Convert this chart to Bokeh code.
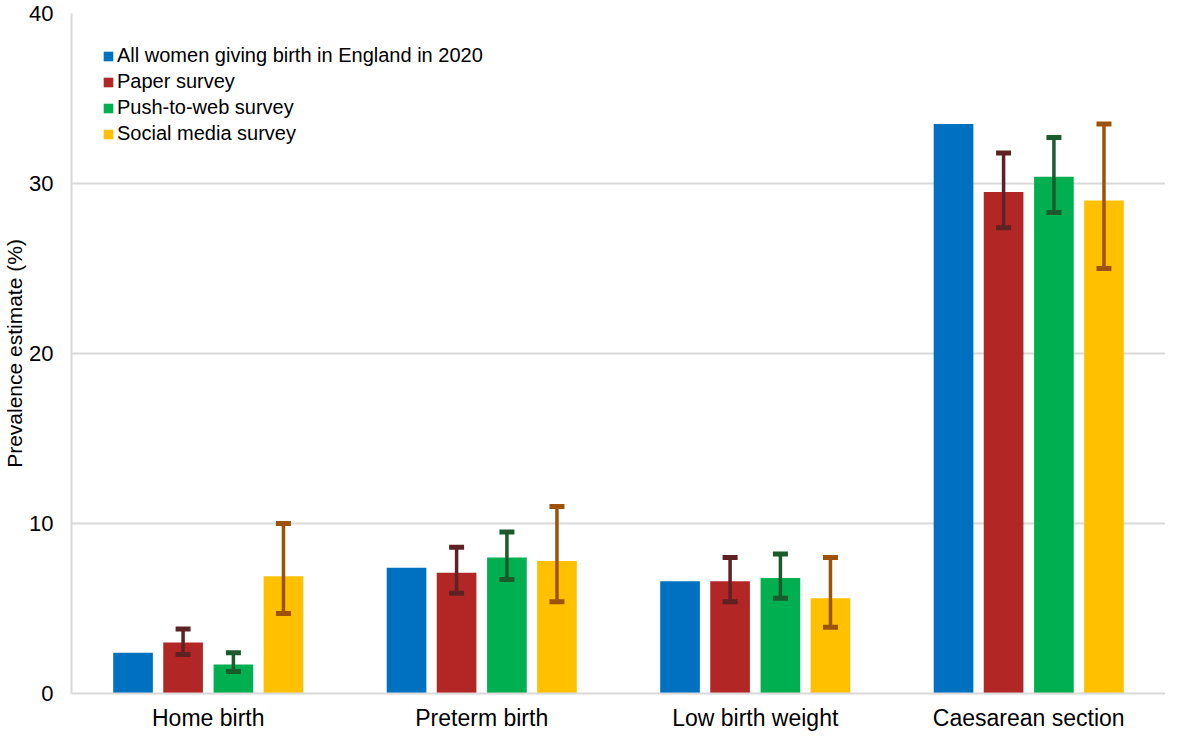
from bokeh.plotting import figure
from bokeh.models import (FactorRange, Whisker, ColumnDataSource, Legend, LegendItem,
                          TeeHead, FixedTicker)
from bokeh.transform import dodge
from bokeh.embed import file_html
from bokeh.resources import INLINE

categories = ["Home birth", "Preterm birth", "Low birth weight", "Caesarean section"]
series_names = ["All women giving birth in England in 2020", "Paper survey",
                "Push-to-web survey", "Social media survey"]
all_women = [2.4, 7.4, 6.6, 33.5]
paper = [3.0, 7.1, 6.6, 29.5]
paper_lo = [2.3, 5.9, 5.4, 27.4]
paper_hi = [3.8, 8.6, 8.0, 31.8]
web = [1.7, 8.0, 6.8, 30.4]
web_lo = [1.3, 6.7, 5.6, 28.3]
web_hi = [2.4, 9.5, 8.2, 32.7]
social = [6.9, 7.8, 5.6, 29.0]
social_lo = [4.7, 5.4, 3.9, 25.0]
social_hi = [10.0, 11.0, 8.0, 33.5]
y_ticks = [0, 10, 20, 30, 40]

FONT = "Liberation Sans"
GRID = "#d9d9d9"

p = figure(x_range=FactorRange(*categories, range_padding=0), y_range=(0, 40),
           width=1165, height=733, output_backend="svg", toolbar_location=None,
           min_border_left=60, min_border_right=0, min_border_top=13, min_border_bottom=36)
p.outline_line_color = None
p.xgrid.grid_line_color = None
p.ygrid.grid_line_color = GRID
p.ygrid.grid_line_width = 2
p.yaxis.ticker = FixedTicker(ticks=y_ticks)

for ax in (p.xaxis[0], p.yaxis[0]):
    ax.axis_line_color = GRID
    ax.axis_line_width = 2
    ax.major_tick_line_color = None
    ax.minor_tick_line_color = None
    ax.major_label_text_font = FONT
    ax.major_label_text_color = "black"

p.yaxis.major_label_text_font_size = "22px"
p.xaxis.major_label_text_font_size = "23px"
p.yaxis.major_label_standoff = 12
p.yaxis.axis_label = "Prevalence estimate (%)"
p.yaxis.axis_label_text_font = FONT
p.yaxis.axis_label_text_font_size = "21px"
p.yaxis.axis_label_text_font_style = "normal"
p.yaxis.axis_label_text_color = "black"
p.yaxis.axis_label_standoff = 0
p.xaxis.major_label_standoff = 5

colors = ["#0070C0", "#B22725", "#00B050", "#FFC000"]
err_colors = [None, "#5E2224", "#1B5A2B", "#9E5208"]
values = [all_women, paper, web, social]
lows = [None, paper_lo, web_lo, social_lo]
highs = [None, paper_hi, web_hi, social_hi]
offsets = [-0.275, -0.092, 0.092, 0.275]

items = []
for i in range(4):
    data = dict(cat=categories, val=values[i])
    if lows[i] is not None:
        data["lo"] = lows[i]
        data["hi"] = highs[i]
    src = ColumnDataSource(data)
    r = p.vbar(x=dodge("cat", offsets[i], range=p.x_range), top="val", width=0.145,
               source=src, fill_color=colors[i], line_color=None)
    items.append(LegendItem(label=series_names[i], renderers=[r]))
    if lows[i] is not None:
        ec = err_colors[i]
        w = Whisker(base=dodge("cat", offsets[i], range=p.x_range), upper="hi", lower="lo",
                    source=src, line_color=ec, line_width=3.5, level="overlay",
                    upper_head=TeeHead(size=15, line_color=ec, line_width=5),
                    lower_head=TeeHead(size=15, line_color=ec, line_width=5))
        p.add_layout(w)

legend = Legend(items=items, location=(31, 548), orientation="vertical")
legend.background_fill_alpha = 0
legend.border_line_color = None
legend.padding = 0
legend.margin = 0
legend.spacing = 3
legend.glyph_width = 12
legend.glyph_height = 12
legend.label_height = 22
legend.label_standoff = 3
legend.label_text_font = FONT
legend.label_text_font_size = "20px"
legend.label_text_color = "black"
p.add_layout(legend, "center")

open("out.html", "w").write(file_html(p, INLINE))
